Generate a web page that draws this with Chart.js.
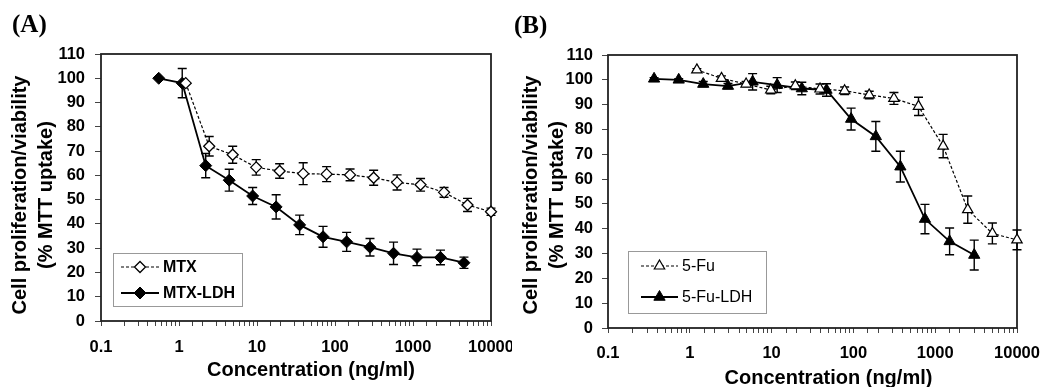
<!DOCTYPE html>
<html>
<head>
<meta charset="utf-8">
<script src="https://cdn.jsdelivr.net/npm/chart.js@4.4.1/dist/chart.umd.min.js"></script>
<style>
  html, body { margin:0; padding:0; background:#fff; overflow:hidden; }
  #wrap { position:relative; width:1050px; height:387px; }
  canvas { position:absolute; top:0; }
  #chartA { left:0; }
  #chartB { left:520px; }
  .panel { position:absolute; font:bold 25px "Liberation Serif", "Times New Roman", serif; line-height:25px; color:#000; }
</style>
</head>
<body>
<div id="wrap">
  <canvas id="chartA" width="512" height="387"></canvas>
  <canvas id="chartB" width="530" height="387"></canvas>
  <div class="panel" style="left:12px; top:11px">(A)</div>
  <div class="panel" style="left:514px; top:12px">(B)</div>
</div>
<script>
// ---- panel A : MTX ----
const mtxConc = [1.22, 2.44, 4.88, 9.77, 19.5, 39.1, 78.1, 156, 313, 625, 1250, 2500, 5000, 10000];
const mtxVal  = [98, 72, 68.5, 63.3, 61.8, 60.7, 60.5, 60.2, 59, 57.1, 56.1, 53, 47.8, 45];
const mtxErr  = [0, 4, 3.5, 3.2, 3, 4.5, 3.1, 2.4, 3.1, 3.1, 2.6, 2, 2.7, 1.5];

const mtxLdhConc = [0.55, 1.1, 2.2, 4.4, 8.8, 17.6, 35.2, 70.3, 141, 281, 563, 1125, 2250, 4500];
const mtxLdhVal  = [100, 98, 64, 58, 51.5, 47, 39.6, 34.7, 32.6, 30.4, 27.9, 26.2, 26.2, 24];
const mtxLdhErr  = [0, 6, 5, 4.5, 3.5, 5, 4, 4.3, 3.9, 3.6, 4.6, 3.4, 3, 2.3];

// ---- panel B : 5-Fu ----
const fuConc = [1.22, 2.44, 4.88, 9.77, 19.5, 39.1, 78.1, 156, 313, 625, 1250, 2500, 5000, 10000];
const fuVal  = [104, 100.6, 98.3, 95.9, 97.6, 96.3, 95.6, 93.9, 92.5, 89.3, 73.3, 47.7, 38.1, 35.5];
const fuErr  = [0.5, 1, 1, 1.5, 1.5, 2, 1.5, 1.5, 2.4, 3.7, 4.7, 5.5, 4.2, 4];

const fuLdhConc = [0.366, 0.732, 1.46, 2.93, 5.86, 11.7, 23.4, 46.9, 93.8, 188, 375, 750, 1500, 3000];
const fuLdhVal  = [100.4, 100, 98.3, 97.5, 99.2, 97.9, 96.5, 95.9, 84.2, 77.2, 65, 43.9, 34.9, 29.4];
const fuLdhErr  = [0.5, 0.5, 1, 1, 3.3, 3, 2.5, 2.5, 4.4, 6, 6.2, 5.9, 5.4, 6];

const yTicks = [0, 10, 20, 30, 40, 50, 60, 70, 80, 90, 100, 110];

Chart.defaults.font.family = '"Liberation Sans", Arial, sans-serif';
Chart.defaults.color = '#000';

function pts(xs, ys){
  return xs.map((x, i) => ({ x: x, y: ys[i] }));
}

// box around the plot area
const frame = {
  id: 'frame',
  beforeDatasetsDraw(chart){
    const { ctx, chartArea: a } = chart;
    ctx.save();
    ctx.strokeStyle = '#222';
    ctx.lineWidth = 1.8;
    ctx.strokeRect(a.left, a.top, a.right - a.left, a.bottom - a.top);
    ctx.restore();
  }
};

// vertical error bars with caps
const errorBars = {
  id: 'errorBars',
  beforeDatasetsDraw(chart){
    const { ctx } = chart;
    const xs = chart.scales.x, ys = chart.scales.y;
    ctx.save();
    ctx.strokeStyle = '#000';
    ctx.lineWidth = 1.4;
    chart.data.datasets.forEach(ds => {
      (ds.errors || []).forEach((e, i) => {
        if(!e) return;
        const p = ds.data[i];
        const px = xs.getPixelForValue(p.x);
        const top = ys.getPixelForValue(p.y + e);
        const bot = ys.getPixelForValue(p.y - e);
        ctx.beginPath();
        ctx.moveTo(px, top); ctx.lineTo(px, bot);
        ctx.moveTo(px - 4.5, top); ctx.lineTo(px + 4.5, top);
        ctx.moveTo(px - 4.5, bot); ctx.lineTo(px + 4.5, bot);
        ctx.stroke();
      });
    });
    ctx.restore();
  }
};

// legend box inside the plot, lower left
const boxLegend = {
  id: 'boxLegend',
  afterDatasetsDraw(chart, args, o){
    const { ctx, chartArea: a } = chart;
    const x = a.left + o.left, y = a.bottom - o.bottom - o.height;
    ctx.save();
    ctx.fillStyle = '#fff';
    ctx.fillRect(x, y, o.width, o.height);
    ctx.strokeStyle = '#999';
    ctx.lineWidth = 1;
    ctx.strokeRect(x + 0.5, y + 0.5, o.width, o.height);
    chart.data.datasets.forEach((ds, i) => {
      const ry = y + o.rows[i];
      ctx.setLineDash(ds.borderDash || []);
      ctx.strokeStyle = ds.borderColor;
      ctx.lineWidth = ds.borderWidth;
      ctx.beginPath();
      ctx.moveTo(x + o.lineFrom, ry);
      ctx.lineTo(x + o.lineTo, ry);
      ctx.stroke();
      ctx.setLineDash([]);
      ctx.fillStyle = ds.pointBackgroundColor;
      ctx.strokeStyle = ds.pointBorderColor;
      ctx.lineWidth = ds.pointBorderWidth;
      Chart.helpers.drawPoint(ctx, {
        pointStyle: ds.pointStyle, radius: ds.pointRadius,
        borderWidth: ds.pointBorderWidth, rotation: 0
      }, x + (o.lineFrom + o.lineTo) / 2, ry);
      ctx.fillStyle = '#000';
      ctx.font = o.font;
      ctx.textAlign = 'left';
      ctx.textBaseline = 'middle';
      ctx.fillText(ds.label, x + o.textX, ry + 1);
    });
    ctx.restore();
  }
};

// axis titles (x title sits a bit right of the plot centre in the original)
const axisTitles = {
  id: 'axisTitles',
  afterDraw(chart, args, o){
    const { ctx, chartArea: a } = chart;
    ctx.save();
    ctx.fillStyle = '#000';
    ctx.font = 'bold 20px "Liberation Sans", Arial, sans-serif';
    ctx.textAlign = 'center';
    ctx.textBaseline = 'middle';
    ctx.fillText(o.xText, (a.left + a.right) / 2 + o.xShift, o.xY);
    ctx.translate(o.yX, (a.top + a.bottom) / 2 + o.yShift);
    ctx.rotate(-Math.PI / 2);
    o.yText.forEach((t, i) => ctx.fillText(t, 0, i * o.yGap));
    ctx.restore();
  }
};

function makeChart(id, o){
  return new Chart(document.getElementById(id), {
    type: 'line',
    data: { datasets: o.datasets },
    options: {
      responsive: false,
      animation: false,
      events: [],
      layout: { padding: { top: o.top, right: o.right, left: 0, bottom: 0 } },
      plugins: {
        legend: { display: false },
        tooltip: { enabled: false },
        boxLegend: o.legend,
        axisTitles: o.titles
      },
      scales: {
        x: {
          type: 'logarithmic',
          min: 0.1,
          max: 10000,
          afterFit: s => { s.height = o.xHeight; s.paddingLeft = 0; s.paddingRight = 0; },
          border: { display: false },
          grid: { drawOnChartArea: false, tickLength: 5, tickColor: '#444' },
          ticks: {
            autoSkip: false,
            maxRotation: 0,
            padding: o.xPad,
            font: { size: 16.5, weight: 'bold' },
            callback: v => {
              const l = Math.log10(v);
              return Math.abs(l - Math.round(l)) < 1e-6 ? String(v) : '';
            }
          }
        },
        y: {
          min: 0,
          max: 110,
          afterFit: s => { s.width = o.yWidth; },
          afterBuildTicks: s => { s.ticks = yTicks.map(v => ({ value: v })); },
          border: { display: false },
          grid: { drawOnChartArea: false, tickLength: 6, tickColor: '#444' },
          ticks: { padding: o.yPad, font: { size: 16.5, weight: 'bold' } }
        }
      }
    },
    plugins: [frame, errorBars, boxLegend, axisTitles]
  });
}

const yTitle = ['Cell proliferation/viability', '(% MTT uptake)'];

makeChart('chartA', {
  top: 54, right: 21, yWidth: 101, xHeight: 66, xPad: 12, yPad: 10,
  datasets: [
    { label: 'MTX', data: pts(mtxConc, mtxVal), errors: mtxErr,
      borderColor: '#000', borderWidth: 1.2, borderDash: [3, 2],
      pointStyle: 'rectRot', pointRadius: 5.5, pointBackgroundColor: '#fff',
      pointBorderColor: '#000', pointBorderWidth: 1.3, tension: 0, clip: false },
    { label: 'MTX-LDH', data: pts(mtxLdhConc, mtxLdhVal), errors: mtxLdhErr,
      borderColor: '#000', borderWidth: 1.8,
      pointStyle: 'rectRot', pointRadius: 6, pointBackgroundColor: '#000',
      pointBorderColor: '#000', pointBorderWidth: 1, tension: 0, clip: false }
  ],
  legend: { left: 12, bottom: 15, width: 129, height: 53, rows: [14, 40],
            lineFrom: 8, lineTo: 46, textX: 50, font: 'bold 16px "Liberation Sans", Arial, sans-serif' },
  titles: { xText: 'Concentration (ng/ml)', xShift: 15, xY: 370,
            yText: yTitle, yX: 20, yShift: 7.5, yGap: 26.5 }
});

makeChart('chartB', {
  top: 55, right: 33, yWidth: 88, xHeight: 59, xPad: 11, yPad: 9,
  datasets: [
    { label: '5-Fu', data: pts(fuConc, fuVal), errors: fuErr,
      borderColor: '#000', borderWidth: 1.2, borderDash: [3, 2],
      pointStyle: 'triangle', pointRadius: 6, pointBackgroundColor: '#fff',
      pointBorderColor: '#000', pointBorderWidth: 1.2, tension: 0, clip: false },
    { label: '5-Fu-LDH', data: pts(fuLdhConc, fuLdhVal), errors: fuLdhErr,
      borderColor: '#000', borderWidth: 1.8,
      pointStyle: 'triangle', pointRadius: 6.5, pointBackgroundColor: '#000',
      pointBorderColor: '#000', pointBorderWidth: 1, tension: 0, clip: false }
  ],
  legend: { left: 20, bottom: 15, width: 138, height: 62, rows: [15, 46],
            lineFrom: 13, lineTo: 50, textX: 54, font: '16px "Liberation Sans", Arial, sans-serif' },
  titles: { xText: 'Concentration (ng/ml)', xShift: 16, xY: 378,
            yText: yTitle, yX: 11, yShift: 3.5, yGap: 26.5 }
});
</script>
</body>
</html>
